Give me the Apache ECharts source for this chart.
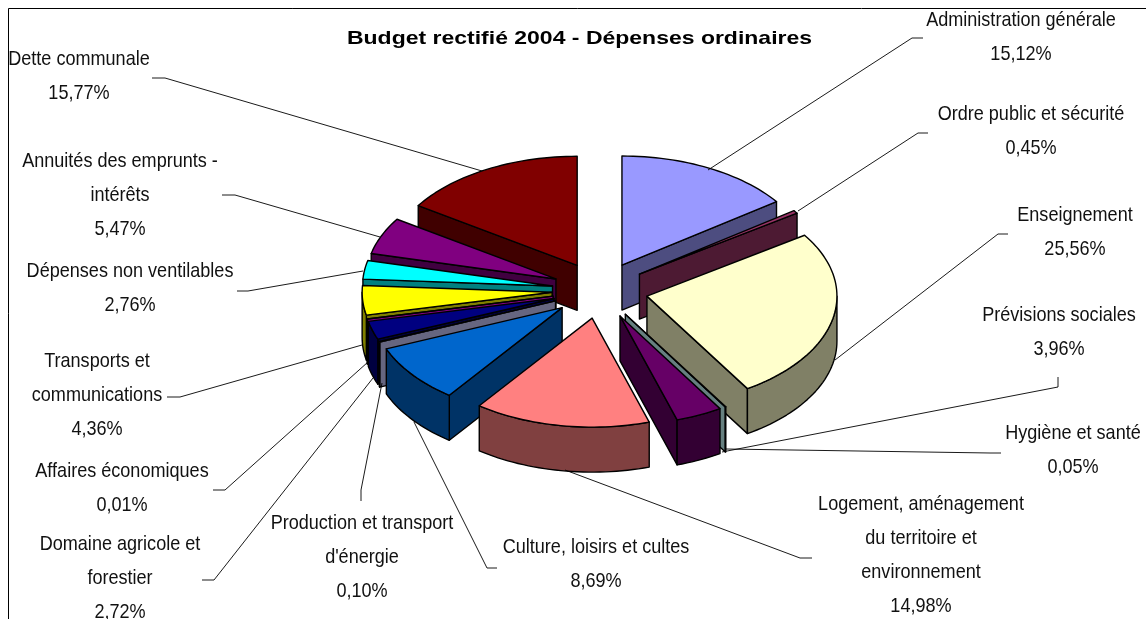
<!DOCTYPE html>
<html><head><meta charset="utf-8">
<style>html,body{margin:0;padding:0;background:#fff}#c{width:1146px;height:619px}</style>
<script src="https://cdn.jsdelivr.net/npm/echarts@6/dist/echarts.min.js"></script>
</head><body><div id="c"></div>
<script>
// ---- data (clockwise from the top of the pie) ----
const categories = ['Administration générale','Ordre public et sécurité','Enseignement','Hygiène et santé','Prévisions sociales','Logement, aménagement du territoire et environnement','Culture, loisirs et cultes','Production et transport d\'énergie','Domaine agricole et forestier','Affaires économiques','Transports et communications','Dépenses non ventilables','Annuités des emprunts - intérêts','Dette communale'];
const values = [15.12,0.45,25.56,0.05,3.96,14.98,8.69,0.10,2.72,0.01,4.36,2.76,5.47,15.77];
const sliceColors = ['#9999FF','#993366','#FFFFCC','#CCFFFF','#660066','#FF8080','#0066CC','#CCCCFF','#000080','#FF00FF','#FFFF00','#00FFFF','#800080','#800000'];
const titleText = 'Budget rectifié 2004 - Dépenses ordinaires';

// ---- text wrapping and layout, kept apart from the values ----
const wrappedNames = ['Administration générale','Ordre public et sécurité','Enseignement','Hygiène et santé','Prévisions sociales','Logement, aménagement\ndu territoire et\nenvironnement','Culture, loisirs et cultes','Production et transport\nd\'énergie','Domaine agricole et\nforestier','Affaires économiques','Transports et\ncommunications','Dépenses non ventilables','Annuités des emprunts -\nintérêts','Dette communale'];
const labelCenters = [[1021,20],[1031,114],[1075,215],[1073,433],[1059,315],[921,504],[596,547],[362,523],[120,544],[122,471],[97,361],[130,271],[120,161],[79,59]];
const leaderPaths = [
 [[708,170],[912,38],[923,38]],
 [[798,211],[918,133],[928,133]],
 [[835,360],[998,234],[1008,234]],
 [[726,449],[990,453],[1001,453]],
 [[722,452],[1058,387],[1058,377]],
 [[565,470],[800,558],[812,558]],
 [[414,422],[487,568],[497,568]],
 [[382,383],[361,490],[361,501]],
 [[373,378],[214,580],[202,580]],
 [[368,362],[225,490],[213,490]],
 [[362,345],[180,397],[167,397]],
 [[363,271],[248,291],[237,291]],
 [[380,237],[235,195],[222,195]],
 [[482,171],[165,78],[152,78]]
];
const pie = {cx:600, cy:290.2, rx:190, ry:109, depth:45, explodeX:48, explodeY:28.3};
const textFont = {family:'"Liberation Sans"', size:21, scaleX:0.86, lineHeight:34};

// ---- geometry derived from the values ----
const total = values.reduce((a,b)=>a+b,0);
let acc = 0;
const slices = values.map((v,i)=>{
  const a0 = acc/total*2*Math.PI; acc += v; const a1 = acc/total*2*Math.PI;
  const mid = (a0+a1)/2;
  return {i,a0,a1,mid,
    ax: pie.cx + pie.explodeX*Math.sin(mid),
    ay: pie.cy - pie.explodeY*Math.cos(mid)};
});
const paintOrder = slices.slice().sort((p,q)=>Math.cos(q.mid)-Math.cos(p.mid)).map(s=>s.i);

function darken(hex){
  const n=parseInt(hex.slice(1),16);
  const c=[n>>16,(n>>8)&255,n&255].map(x=>Math.round(x/2));
  return 'rgb('+c.join(',')+')';
}
function renderSlice(params, api){
  const s = slices[api.value(0)];
  const col = sliceColors[s.i], dark = darken(col);
  const P = a=>[s.ax+pie.rx*Math.sin(a), s.ay-pie.ry*Math.cos(a)];
  const down = p=>[p[0],p[1]+pie.depth];
  const line = {stroke:'#000',lineWidth:1.4,lineJoin:'round'};
  const apex=[s.ax,s.ay], kids=[];
  const poly=(pts,fill)=>kids.push({type:'polygon',silent:true,shape:{points:pts},style:Object.assign({fill},line)});
  // radial walls, visible only when they face the viewer
  if(Math.sin(s.a1)>0) poly([apex,P(s.a1),down(P(s.a1)),down(apex)],dark);
  if(Math.sin(s.a0)<0) poly([apex,P(s.a0),down(P(s.a0)),down(apex)],dark);
  // outer rim, front half only
  const r0=Math.max(s.a0,Math.PI/2), r1=Math.min(s.a1,1.5*Math.PI);
  if(r1>r0){
    const n=Math.max(2,Math.ceil((r1-r0)/0.03)),top=[];
    for(let k=0;k<=n;k++) top.push(P(r0+(r1-r0)*k/n));
    poly(top.concat(top.map(down).reverse()),dark);
  }
  // top face
  const n=Math.max(2,Math.ceil((s.a1-s.a0)/0.03)),face=[apex];
  for(let k=0;k<=n;k++) face.push(P(s.a0+(s.a1-s.a0)*k/n));
  poly(face,col);
  return {type:'group',children:kids};
}

const pct = v=>v.toFixed(2).replace('.',',')+'%';
const graphics = [
 {type:'polyline',z:1,silent:true,shape:{points:[[8.5,619],[8.5,8.5],[1146,8.5]]},style:{stroke:'#000',lineWidth:1,fill:'none'}},
 {type:'text',z:10,silent:true,x:579.5,y:39,scaleX:1.21,style:{text:titleText,align:'center',verticalAlign:'middle',fontFamily:textFont.family,fontWeight:'bold',fontSize:19,fill:'#000'}}
];
categories.forEach((c,i)=>{
  graphics.push({type:'polyline',z:9,silent:true,shape:{points:leaderPaths[i]},style:{stroke:'#000',lineWidth:0.9,fill:'none'}});
  graphics.push({type:'text',z:10,silent:true,x:labelCenters[i][0],y:labelCenters[i][1]-textFont.lineHeight/2,scaleX:textFont.scaleX,
    style:{text:wrappedNames[i]+'\n'+pct(values[i]),align:'center',verticalAlign:'top',lineHeight:textFont.lineHeight,fontFamily:textFont.family,fontSize:textFont.size,fill:'#111'}});
});

const chart = echarts.init(document.getElementById('c'),null,{renderer:'canvas'});
chart.setOption({
  animation:false,
  backgroundColor:'#fff',
  graphic:graphics,
  series:[{type:'custom',coordinateSystem:'none',renderItem:renderSlice,silent:true,z:5,
    data:paintOrder.map(i=>({value:[i,values[i]],name:categories[i]}))}]
});
</script></body></html>
